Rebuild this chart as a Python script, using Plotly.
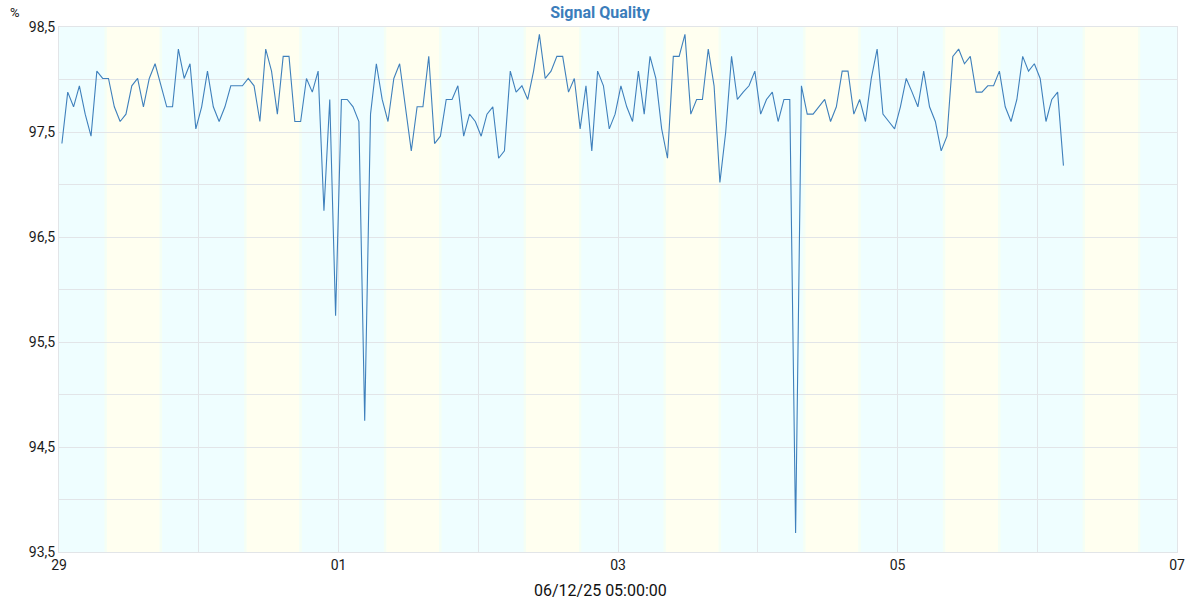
import pandas as pd
import plotly.graph_objects as go

# hourly samples, first at 2025-11-29 00:30
start_time = "2025-11-29 00:30"
quality = [
    97.39, 97.88, 97.74, 97.94, 97.67, 97.46, 98.08, 98.01, 98.01, 97.74,
    97.60, 97.67, 97.94, 98.01, 97.74, 98.01, 98.15, 97.94, 97.74, 97.74,
    98.29, 98.01, 98.15, 97.53, 97.74, 98.08, 97.74, 97.60, 97.74, 97.94,
    97.94, 97.94, 98.01, 97.94, 97.60, 98.29, 98.08, 97.67, 98.22, 98.22,
    97.60, 97.60, 98.01, 97.88, 98.08, 96.75, 97.81, 95.75, 97.81, 97.81,
    97.74, 97.60, 94.75, 97.67, 98.15, 97.81, 97.60, 98.01, 98.15, 97.74,
    97.32, 97.74, 97.74, 98.22, 97.39, 97.46, 97.81, 97.81, 97.94, 97.46,
    97.67, 97.60, 97.46, 97.67, 97.74, 97.25, 97.32, 98.08, 97.88, 97.94,
    97.81, 98.08, 98.43, 98.01, 98.08, 98.22, 98.22, 97.88, 98.01, 97.53,
    97.94, 97.32, 98.08, 97.94, 97.53, 97.67, 97.94, 97.74, 97.60, 98.08,
    97.67, 98.22, 98.01, 97.53, 97.25, 98.22, 98.22, 98.43, 97.67, 97.81,
    97.81, 98.29, 97.94, 97.02, 97.50, 98.22, 97.81, 97.88, 97.94, 98.08,
    97.67, 97.81, 97.88, 97.60, 97.81, 97.81, 93.68, 97.94, 97.67, 97.67,
    97.74, 97.81, 97.60, 97.74, 98.08, 98.08, 97.67, 97.81, 97.60, 98.01,
    98.29, 97.67, 97.60, 97.53, 97.74, 98.01, 97.88, 97.74, 98.08, 97.74,
    97.60, 97.32, 97.46, 98.22, 98.29, 98.15, 98.22, 97.88, 97.88, 97.94,
    97.94, 98.08, 97.74, 97.60, 97.81, 98.22, 98.08, 98.15, 98.01, 97.60,
    97.81, 97.88, 97.18,
]
times = pd.date_range(start_time, periods=len(quality), freq="h")

days = ["2025-11-29", "2025-11-30", "2025-12-01", "2025-12-02",
        "2025-12-03", "2025-12-04", "2025-12-05", "2025-12-06"]
day_start = "08:00"
day_end = "17:30"

y_ticks = [93.5, 94.0, 94.5, 95.0, 95.5, 96.0, 96.5, 97.0, 97.5, 98.0, 98.5]
y_labels = ["93,5", "", "94,5", "", "95,5", "", "96,5", "", "97,5", "", "98,5"]
x_title = "06/12/25 05:00:00"
chart_title = "Signal Quality"

NIGHT = "#effeff"
DAY = "#fffff0"
EDGE = "#f5fff4"
GRID = "#e2e5e8"

fig = go.Figure()
fig.add_trace(go.Scatter(
    x=times, y=quality, mode="lines",
    line=dict(color="#3f80bc", width=1.1),
    hoverinfo="x+y", showlegend=False,
))

shapes = []
edge = pd.Timedelta(minutes=12)
for d in days:
    s = pd.Timestamp(f"{d} {day_start}")
    e = pd.Timestamp(f"{d} {day_end}")
    shapes.append(dict(type="rect", xref="x", yref="paper", x0=s - edge, x1=s + edge,
                       y0=0, y1=1, fillcolor=EDGE, line=dict(width=0), layer="below"))
    shapes.append(dict(type="rect", xref="x", yref="paper", x0=s + edge, x1=e - edge,
                       y0=0, y1=1, fillcolor=DAY, line=dict(width=0), layer="below"))
    shapes.append(dict(type="rect", xref="x", yref="paper", x0=e - edge, x1=e + edge,
                       y0=0, y1=1, fillcolor=EDGE, line=dict(width=0), layer="below"))

L, R, T, B = 59, 23, 27, 48
pw = 1200 - L - R
ph = 600 - T - B

fig.update_layout(
    width=1200, height=600,
    margin=dict(l=L, r=R, t=T, b=B),
    paper_bgcolor="white", plot_bgcolor=NIGHT,
    separators=",.",
    font=dict(family="Roboto", size=14, color="#1a1a1a"),
    title=dict(text=f"<b>{chart_title}</b>", x=0.5, xref="container", xanchor="center",
               y=1 - 12 / 600, yref="container", yanchor="middle",
               font=dict(family="Roboto", size=16, color="#3b7dbb")),
    shapes=shapes,
    showlegend=False,
    annotations=[
        dict(text="%", xref="paper", yref="paper", x=(15 - L) / pw, y=1 + (T - 12) / ph,
             xanchor="center", yanchor="middle", showarrow=False,
             font=dict(family="Roboto", size=13, color="#1a1a1a")),
        dict(text=x_title, xref="paper", yref="paper", x=(600 - L) / pw, y=-(590 - 552) / ph,
             xanchor="center", yanchor="middle", showarrow=False,
             font=dict(family="Roboto", size=16, color="#111")),
    ],
)
fig.update_xaxes(
    type="date", range=["2025-11-29", "2025-12-07"],
    tickformat="%d", dtick=2 * 86400000, tick0="2025-11-29",
    showgrid=True, gridcolor=GRID, gridwidth=1,
    minor=dict(dtick=86400000, tick0="2025-11-29", showgrid=True, gridcolor=GRID, gridwidth=1),
    showline=True, linecolor=GRID, mirror=True, zeroline=False,
    ticks="", tickfont=dict(size=14, color="#1a1a1a"),
)
fig.update_yaxes(
    range=[93.5, 98.5], tickvals=y_ticks, ticktext=y_labels,
    showgrid=True, gridcolor=GRID, gridwidth=1,
    showline=True, linecolor=GRID, mirror=True, zeroline=False,
    ticks="", tickfont=dict(size=14, color="#1a1a1a"),
)

fig.write_html("out.html", config={"displayModeBar": False},
               post_script="document.body.style.margin='0';")
